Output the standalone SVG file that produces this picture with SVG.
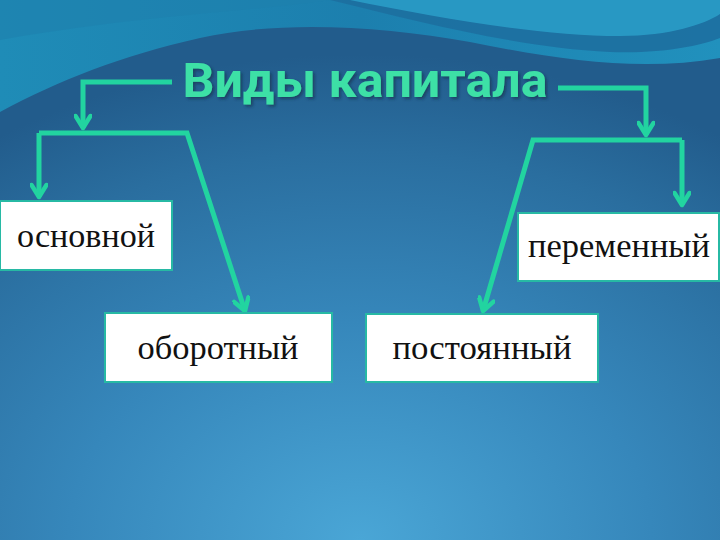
<svg xmlns="http://www.w3.org/2000/svg" width="720" height="540" viewBox="0 0 720 540">
<defs>
<radialGradient id="bg" cx="50%" cy="100%" r="90%" fx="50%" fy="100%">
<stop offset="0" stop-color="#4aa6d6"/>
<stop offset="0.45" stop-color="#3687bb"/>
<stop offset="0.8" stop-color="#2a6e9f"/>
<stop offset="1" stop-color="#225c8c"/>
</radialGradient>
<linearGradient id="wave" x1="0" y1="0" x2="1" y2="0">
<stop offset="0" stop-color="#1f8cb7"/>
<stop offset="0.5" stop-color="#1c7fae"/>
<stop offset="1" stop-color="#2191bd"/>
</linearGradient>
<filter id="sh" x="-5%" y="-20%" width="110%" height="150%">
<feDropShadow dx="2" dy="2" stdDeviation="1.5" flood-color="#0b2a45" flood-opacity="0.6"/>
</filter>
<marker id="ah" markerUnits="userSpaceOnUse" viewBox="0 0 18 18" refX="15" refY="9" markerWidth="18" markerHeight="18" orient="auto">
<path d="M3,1.5 L15,9 L3,16.5" fill="none" stroke="#22d4a0" stroke-width="4.5" stroke-linecap="round" stroke-linejoin="round"/>
</marker>
</defs>
<style>
.c{fill:none;stroke:#22d4a0;stroke-width:5;stroke-linejoin:miter;stroke-linecap:butt}
.a{marker-end:url(#ah)}
.box{fill:#ffffff;stroke:#27b9a4;stroke-width:2}
.lbl{font-family:"Liberation Serif","Times New Roman",serif;font-size:34px;fill:#111111}
.ttl{font-family:Roboto,"Open Sans",sans-serif;font-weight:bold;font-size:49px;fill:#3ee0a6}
</style>
<g id="background">
<rect x="0" y="0" width="720" height="540" fill="url(#bg)"/>
<path d="M0,0 L720,0 L720,58 C640,72 560,60 470,42 C380,26 280,20 200,38 C120,56 60,80 0,112 Z" fill="url(#wave)"/>
<path d="M330,0 C420,22 520,48 610,52 C660,54 700,46 720,38 L720,0 Z" fill="#1d6fa0" opacity="0.9"/>
<path d="M350,0 C440,18 540,36 620,36 C670,36 705,24 720,14 L720,0 Z" fill="#2a9cc6" opacity="0.9"/>
<path d="M0,0 L330,0 C250,12 150,14 0,40 Z" fill="#1e80ad" opacity="0.6"/>
</g>
<g id="title">
<text class="ttl" x="365" y="97" text-anchor="middle" textLength="365" lengthAdjust="spacingAndGlyphs" filter="url(#sh)">Виды капитала</text>
</g>
<g id="connectors">
<path class="c a" d="M172,82 L83,82 L83,128"/>
<path class="c a" d="M558,88 L646,88 L646,135"/>
<path class="c a" d="M39,133 L39,197"/>
<path class="c a" d="M39,133 L187,133 L245,311"/>
<path class="c a" d="M682,140 L682,205"/>
<path class="c a" d="M682,140 L533,140 L483,311"/>
</g>
<g id="node-osnovnoy">
<rect class="box" x="0" y="201" width="172" height="69"/>
<text class="lbl" x="86" y="247" text-anchor="middle" textLength="138" lengthAdjust="spacingAndGlyphs">основной</text>
</g>
<g id="node-oborotny">
<rect class="box" x="105" y="313" width="227" height="69"/>
<text class="lbl" x="218" y="359" text-anchor="middle" textLength="161" lengthAdjust="spacingAndGlyphs">оборотный</text>
</g>
<g id="node-peremenny">
<rect class="box" x="518" y="213" width="201" height="68"/>
<text class="lbl" x="619" y="257" text-anchor="middle" textLength="182" lengthAdjust="spacingAndGlyphs">переменный</text>
</g>
<g id="node-postoyanny">
<rect class="box" x="366" y="314" width="232" height="68"/>
<text class="lbl" x="482" y="359" text-anchor="middle" textLength="179" lengthAdjust="spacingAndGlyphs">постоянный</text>
</g>
</svg>
